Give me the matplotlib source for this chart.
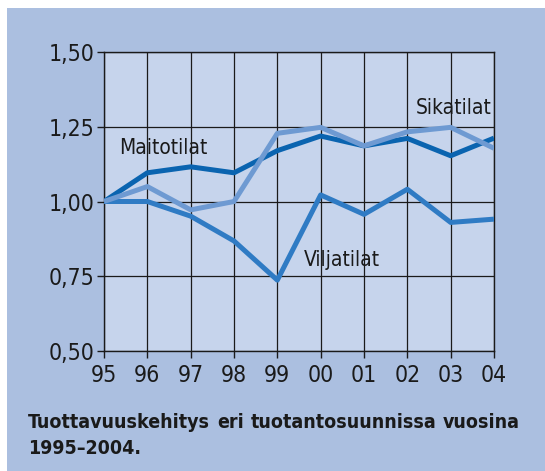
import matplotlib.pyplot as plt
from matplotlib.patches import Rectangle

years = ["95", "96", "97", "98", "99", "00", "01", "02", "03", "04"]
maitotilat = [1.00, 1.096, 1.116, 1.096, 1.170, 1.219, 1.186, 1.211, 1.153, 1.212]
sikatilat = [1.00, 1.050, 0.972, 1.000, 1.228, 1.248, 1.186, 1.233, 1.248, 1.178]
viljatilat = [1.00, 1.000, 0.951, 0.868, 0.737, 1.022, 0.957, 1.041, 0.930, 0.941]
yticks = [0.50, 0.75, 1.00, 1.25, 1.50]
caption_words = ["Tuottavuuskehitys", "eri", "tuotantosuunnissa", "vuosina"]
caption_line2 = "1995\u20132004."

plt.rcParams["font.family"] = "DejaVu Sans"
plt.rcParams["font.stretch"] = "condensed"

W, H = 545, 471
fig = plt.figure(figsize=(W / 100, H / 100), dpi=100)
fig.patch.set_facecolor("white")

# blue backdrop panel
fig.patches.append(Rectangle((7 / W, 0), 1, (H - 8) / H, transform=fig.transFigure,
                             facecolor="#abbfe0", edgecolor="none", zorder=-5))

ax = fig.add_axes([104 / W, (H - 351) / H, 390 / W, 299 / H])
ax.set_facecolor("#c6d4ec")

x = list(range(len(years)))
lw = 3.6
ax.plot(x, viljatilat, color="#2f7bc4", lw=lw, solid_capstyle="butt", zorder=3)
ax.plot(x, maitotilat, color="#0a64b0", lw=lw, solid_capstyle="butt", zorder=4)
ax.plot(x, sikatilat, color="#6e9ad2", lw=lw, solid_capstyle="butt", zorder=5)

ax.set_xlim(0, len(years) - 1)
ax.set_ylim(0.5, 1.5)
ax.set_xticks(x)
ax.set_xticklabels(years)
ax.set_yticks(yticks)
ax.set_yticklabels([f"{v:.2f}".replace(".", ",") for v in yticks])
ax.grid(True, color="#1a1a1a", lw=0.9)
ax.set_axisbelow(True)
for s in ax.spines.values():
    s.set_color("#1a1a1a")
    s.set_linewidth(1.0)
ax.tick_params(length=5, width=1.0, color="#1a1a1a", labelsize=16.5,
               labelcolor="#1a1a1a")
ax.tick_params(axis="x", pad=4)
ax.tick_params(axis="y", pad=2)

ax.text(0.35, 1.178, "Maitotilat", fontsize=15, color="#1a1a1a", va="center")
ax.text(7.2, 1.312, "Sikatilat", fontsize=15, color="#1a1a1a", va="center")
ax.text(4.62, 0.805, "Viljatilat", fontsize=15, color="#1a1a1a", va="center")

# justified caption, first line spread between left and right edge
left, right = 28 / W, 520 / W
y1, y2 = 1 - 422 / H, 1 - 448 / H
renderer = fig.canvas.get_renderer()
texts = [fig.text(0, y1, w, fontsize=14, fontweight="bold", color="#1a1a1a",
                  va="center") for w in caption_words]
widths = [t.get_window_extent(renderer).width / fig.bbox.width for t in texts]
gap = (right - left - sum(widths)) / (len(texts) - 1)
pos = left
for t, wd in zip(texts, widths):
    t.set_x(pos)
    pos += wd + gap
fig.text(left, y2, caption_line2, fontsize=14, fontweight="bold",
         color="#1a1a1a", va="center")

fig.savefig("out.png", dpi=100)
